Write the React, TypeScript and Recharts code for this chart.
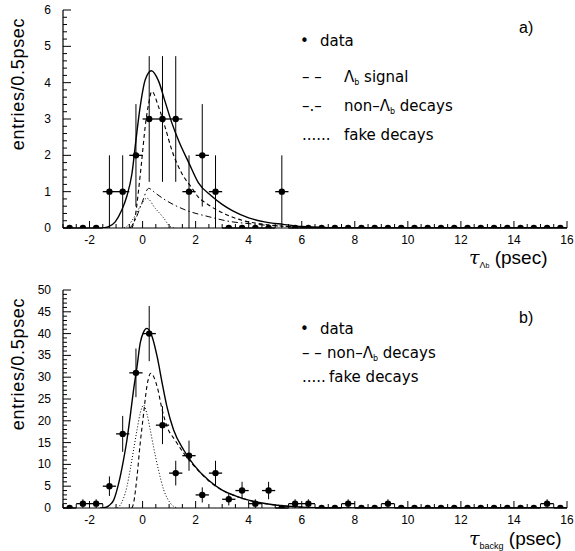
import React from 'react';
import { ComposedChart, Scatter, Line, XAxis, YAxis, ErrorBar } from 'recharts';

// ---------- data ----------
const binCenters = [
  -2.75, -2.25, -1.75, -1.25, -0.75, -0.25, 0.25, 0.75, 1.25, 1.75, 2.25, 2.75, 3.25, 3.75, 4.25, 4.75,
  5.25, 5.75, 6.25, 6.75, 7.25, 7.75, 8.25, 8.75, 9.25, 9.75, 10.25, 10.75, 11.25, 11.75, 12.25, 12.75,
  13.25, 13.75, 14.25, 14.75, 15.25, 15.75,
];
const binHalfWidth = 0.25;

const countsA = [
  0, 0, 0, 1, 1, 2, 3, 3, 3, 1, 2, 1, 0, 0, 0, 0,
  1, 0, 0, 0, 0, 0, 0, 0, 0, 0, 0, 0, 0, 0, 0, 0,
  0, 0, 0, 0, 0, 0,
];
const errA = [
  0, 0, 0, 1, 1, 1.41, 1.73, 1.73, 1.73, 1, 1.41, 1, 0, 0, 0, 0,
  1, 0, 0, 0, 0, 0, 0, 0, 0, 0, 0, 0, 0, 0, 0, 0,
  0, 0, 0, 0, 0, 0,
];
const countsB = [
  0, 1, 1, 5, 17, 31, 40, 19, 8, 12, 3, 8, 2, 4, 1, 4,
  0, 1, 1, 0, 0, 1, 0, 0, 1, 0, 0, 0, 0, 0, 0, 0,
  0, 0, 0, 0, 1, 0,
];
const errB = [
  0, 1, 1, 2.24, 4.12, 5.57, 6.32, 4.36, 2.83, 3.46, 1.73, 2.83, 1.41, 2, 1, 2,
  0, 1, 1, 0, 0, 1, 0, 0, 1, 0, 0, 0, 0, 0, 0, 0,
  0, 0, 0, 0, 1, 0,
];

// fitted curves, panel a
const totalAx = [-1.5, -1.28, -1.03, -0.78, -0.6, -0.4, -0.25, -0.09, 0.1, 0.33, 0.6, 0.86, 1.1, 1.36, 1.74, 2.1, 2.6, 3.0, 3.4, 4.0, 4.6, 5.3, 6.0, 7.0, 8.0, 16];
const totalAy = [0, 0.04, 0.17, 0.5, 0.86, 1.5, 2.42, 3.34, 4.08, 4.33, 4.05, 3.45, 2.9, 2.4, 1.8, 1.25, 0.88, 0.65, 0.47, 0.28, 0.17, 0.1, 0.04, 0.01, 0, 0];
const signalAx = [-0.4, -0.28, -0.15, -0.03, 0.1, 0.23, 0.35, 0.6, 0.86, 1.1, 1.48, 1.86, 2.1, 2.36, 3.12, 3.87, 4.6, 5.5, 6.5, 7.5, 16];
const signalAy = [0, 0.3, 1.05, 1.87, 2.8, 3.43, 3.76, 3.34, 2.75, 2.15, 1.5, 1.1, 0.85, 0.7, 0.38, 0.19, 0.1, 0.04, 0.01, 0, 0];
const nonLbAx = [-0.47, -0.28, -0.03, 0.23, 0.5, 0.86, 1.6, 2.5, 3.37, 3.87, 4.6, 5.5, 6.5, 8.0, 16];
const nonLbAy = [0, 0.22, 0.68, 1.09, 0.95, 0.77, 0.5, 0.31, 0.17, 0.13, 0.08, 0.04, 0.02, 0, 0];
const fakeAx = [-0.7, -0.53, -0.34, -0.09, 0.16, 0.48, 0.8, 1.04, 1.2];
const fakeAy = [0, 0.08, 0.27, 0.59, 0.82, 0.54, 0.27, 0.04, 0];

// fitted curves, panel b
const totalBx = [-1.6, -1.47, -1.28, -1.09, -0.9, -0.72, -0.59, -0.47, -0.34, -0.21, -0.09, 0.04, 0.16, 0.36, 0.55, 0.74, 0.92, 1.17, 1.55, 1.93, 2.5, 3.0, 3.5, 4.0, 4.5, 5.0, 5.5, 6.0, 7.0, 8.0, 16];
const totalBy = [0, 0.05, 0.5, 1.8, 5.7, 11, 15.6, 20.9, 27.1, 32.4, 37.8, 40.4, 41.2, 39.3, 34.7, 28.6, 23.2, 17.9, 13.3, 9.9, 6.3, 4.1, 2.8, 1.8, 1.15, 0.7, 0.4, 0.2, 0.05, 0, 0];
const nonLbBx = [-0.4, -0.34, -0.21, -0.09, 0.04, 0.16, 0.31, 0.55, 0.74, 0.92, 1.23, 1.55, 1.93, 2.5, 3.0, 3.5, 4.0, 4.5, 5.0, 5.5, 6.0, 7.0, 8.0, 16];
const nonLbBy = [0, 1.1, 7.2, 14.8, 21.7, 27.8, 30.9, 27.8, 22.5, 18.7, 15.5, 12.6, 9.7, 6.2, 4.05, 2.75, 1.78, 1.12, 0.69, 0.4, 0.2, 0.05, 0, 0];
const fakeBx = [-0.95, -0.84, -0.72, -0.59, -0.47, -0.34, -0.21, -0.09, 0.04, 0.16, 0.29, 0.41, 0.6, 0.8, 1.05, 1.3];
const fakeBy = [0, 0.7, 2.2, 4.9, 8.7, 13.3, 17.9, 21.7, 23.6, 21.7, 17.9, 14.1, 8.7, 4.1, 1.1, 0];

// ticks
const xTickLabels = [-2, 0, 2, 4, 6, 8, 10, 12, 14, 16];
const xMinorStep = 0.5;
const yTickLabelsA = [0, 1, 2, 3, 4, 5, 6];
const yMinorStepA = 0.2;
const yTickLabelsB = [0, 5, 10, 15, 20, 25, 30, 35, 40, 45, 50];
const yMinorStepB = 1;

const xDomain: [number, number] = [-3, 16];

// ---------- helpers ----------
const steps = (a: number, b: number, s: number) => {
  const out: number[] = [];
  const n = Math.round((b - a) / s);
  for (let i = 0; i <= n; i++) out.push(Math.round((a + i * s) * 1000) / 1000);
  return out;
};
const zip = (xs: number[], ys: number[]) => xs.map((x, i) => ({ x, y: ys[i] }));
const points = (counts: number[], errs: number[]) =>
  binCenters.map((x, i) => ({ x, y: counts[i], ey: errs[i], ex: binHalfWidth }));

const FONT = '"Liberation Sans", Arial, sans-serif';
const LFONT = '"DejaVu Sans", sans-serif';

const makeXTick = (labels: number[]) => (props: any) => {
  const { x, y, payload } = props;
  const v = payload.value as number;
  const isLabel = labels.some((l) => Math.abs(l - v) < 1e-6);
  const len = isLabel ? 7 : 4;
  return (
    <g>
      <line x1={x} x2={x} y1={y} y2={y - len} stroke="#000" strokeWidth={1} />
      {isLabel && (
        <text x={x} y={y + 16} textAnchor="middle" fontSize={12} fontFamily={FONT} fill="#000">
          {v}
        </text>
      )}
    </g>
  );
};

const makeYTick = (labels: number[]) => (props: any) => {
  const { x, y, payload } = props;
  const v = payload.value as number;
  const isLabel = labels.some((l) => Math.abs(l - v) < 1e-6);
  const len = isLabel ? 8 : 4;
  return (
    <g>
      <line x1={x} x2={x + len} y1={y} y2={y} stroke="#000" strokeWidth={1} />
      {isLabel && (
        <text x={x - 12} y={y + 4} textAnchor="end" fontSize={12} fontFamily={FONT} fill="#000">
          {v}
        </text>
      )}
    </g>
  );
};

const Dot = (p: any) => <circle cx={p.cx} cy={p.cy} r={3.2} fill="#000" />;

type PanelProps = {
  pts: { x: number; y: number; ey: number; ex: number }[];
  curves: { data: { x: number; y: number }[]; dash?: string; width: number }[];
  yDomain: [number, number];
  yLabels: number[];
  yStep: number;
};

function Panel({ pts, curves, yDomain, yLabels, yStep }: PanelProps) {
  return (
    <ComposedChart width={575} height={270} margin={{ top: 10, right: 8, bottom: 0, left: 0 }}>
      <XAxis
        dataKey="x"
        type="number"
        domain={xDomain}
        allowDataOverflow
        ticks={steps(xDomain[0], xDomain[1], xMinorStep)}
        interval={0}
        tick={makeXTick(xTickLabels)}
        tickLine={false}
        tickSize={0}
        tickMargin={0}
        height={42}
        axisLine={{ stroke: '#000', strokeWidth: 1.2 }}
      />
      <XAxis
        xAxisId="top"
        orientation="top"
        type="number"
        domain={xDomain}
        allowDataOverflow
        height={0}
        tick={false}
        tickLine={false}
        axisLine={{ stroke: '#000', strokeWidth: 1.2 }}
      />
      <YAxis
        type="number"
        domain={yDomain}
        allowDataOverflow
        ticks={steps(yDomain[0], yDomain[1], yStep)}
        interval={0}
        tick={makeYTick(yLabels)}
        tickLine={false}
        tickSize={0}
        tickMargin={0}
        width={63}
        axisLine={{ stroke: '#000', strokeWidth: 1.2 }}
      />
      <YAxis
        yAxisId="right"
        orientation="right"
        type="number"
        domain={yDomain}
        allowDataOverflow
        width={0}
        tick={false}
        tickLine={false}
        axisLine={{ stroke: '#000', strokeWidth: 1.2 }}
      />
      {curves.map((c, i) => (
        <Line
          key={i}
          data={c.data}
          dataKey="y"
          type="monotone"
          dot={false}
          activeDot={false}
          stroke="#000"
          strokeWidth={c.width}
          strokeDasharray={c.dash}
          isAnimationActive={false}
        />
      ))}
      <Scatter data={pts} dataKey="y" shape={Dot} isAnimationActive={false}>
        <ErrorBar dataKey="ey" direction="y" width={0} stroke="#000" strokeWidth={1} />
        <ErrorBar dataKey="ex" direction="x" width={0} stroke="#000" strokeWidth={1.3} />
      </Scatter>
    </ComposedChart>
  );
}

const Lb = ({ size = 8 }: { size?: number }) => (
  <span>
    Λ<sub style={{ fontSize: size, verticalAlign: 'baseline', position: 'relative', top: 3 }}>b</sub>
  </span>
);

const abs = (left: number, top: number, extra: React.CSSProperties = {}): React.CSSProperties => ({
  position: 'absolute',
  left,
  top,
  whiteSpace: 'nowrap',
  lineHeight: 1,
  fontFamily: FONT,
  color: '#000',
  ...extra,
});

export default function App() {
  const dataA = points(countsA, errA);
  const dataB = points(countsB, errB);
  const curvesA = [
    { data: zip(totalAx, totalAy), width: 1.4 },
    { data: zip(signalAx, signalAy), dash: '4 3', width: 1.1 },
    { data: zip(nonLbAx, nonLbAy), dash: '6 3 1.5 3', width: 1 },
    { data: zip(fakeAx, fakeAy), dash: '1 2', width: 1 },
  ];
  const curvesB = [
    { data: zip(totalBx, totalBy), width: 1.4 },
    { data: zip(nonLbBx, nonLbBy), dash: '4 3', width: 1.1 },
    { data: zip(fakeBx, fakeBy), dash: '1 2', width: 1 },
  ];
  const legendFont = 15;
  const leg = (left: number, top: number) => abs(left, top, { fontSize: legendFont, fontFamily: LFONT });
  return (
    <div style={{ position: 'absolute', left: 0, top: 0, width: 575, height: 551, background: '#fff' }}>
      <div style={{ position: 'absolute', left: 0, top: 0 }}>
        <Panel pts={dataA} curves={curvesA} yDomain={[0, 6]} yLabels={yTickLabelsA} yStep={yMinorStepA} />
      </div>
      <div style={{ position: 'absolute', left: 0, top: 280 }}>
        <Panel pts={dataB} curves={curvesB} yDomain={[0, 50]} yLabels={yTickLabelsB} yStep={yMinorStepB} />
      </div>

      {/* y axis titles */}
      <div style={abs(18, 84, { fontSize: 18, letterSpacing: 0.7, transform: 'translate(-50%, -50%) rotate(-90deg)' })}>
        entries/0.5psec
      </div>
      <div style={abs(18, 364, { fontSize: 18, letterSpacing: 0.7, transform: 'translate(-50%, -50%) rotate(-90deg)' })}>
        entries/0.5psec
      </div>

      {/* x axis titles */}
      <div style={abs(469, 248, { fontSize: 19 })}>
        <span style={{ fontStyle: 'italic', fontFamily: '"DejaVu Serif", serif' }}>τ</span>
        <span style={{ fontSize: 9, position: 'relative', top: 4 }}>
          Λ<span style={{ fontSize: 7 }}>b</span>
        </span>{' '}
        (psec)
      </div>
      <div style={abs(469, 529, { fontSize: 19 })}>
        <span style={{ fontStyle: 'italic', fontFamily: '"DejaVu Serif", serif' }}>τ</span>
        <span style={{ fontSize: 9, position: 'relative', top: 4 }}>backg</span> (psec)
      </div>

      {/* panel tags */}
      <div style={abs(519, 20, { fontSize: 16 })}>a)</div>
      <div style={abs(519, 310, { fontSize: 16 })}>b)</div>

      {/* legend a */}
      <div style={leg(300, 34)}>
        <span style={{ display: 'inline-block', width: 20 }}>•</span>data
      </div>
      <div style={leg(302, 70)}>
        <span style={{ display: 'inline-block', width: 42 }}>– –</span>
        <Lb /> signal
      </div>
      <div style={leg(302, 99)}>
        <span style={{ display: 'inline-block', width: 42 }}>–.–</span>
        non–<Lb /> decays
      </div>
      <div style={leg(302, 128)}>
        <span style={{ display: 'inline-block', width: 42 }}>......</span>
        fake decays
      </div>

      {/* legend b */}
      <div style={leg(300, 322)}>
        <span style={{ display: 'inline-block', width: 20 }}>•</span>data
      </div>
      <div style={leg(302, 346)}>
        <span style={{ display: 'inline-block', width: 25 }}>– –</span>
        non–<Lb /> decays
      </div>
      <div style={leg(302, 370)}>
        <span style={{ display: 'inline-block', width: 27 }}>.....</span>
        fake decays
      </div>
    </div>
  );
}
